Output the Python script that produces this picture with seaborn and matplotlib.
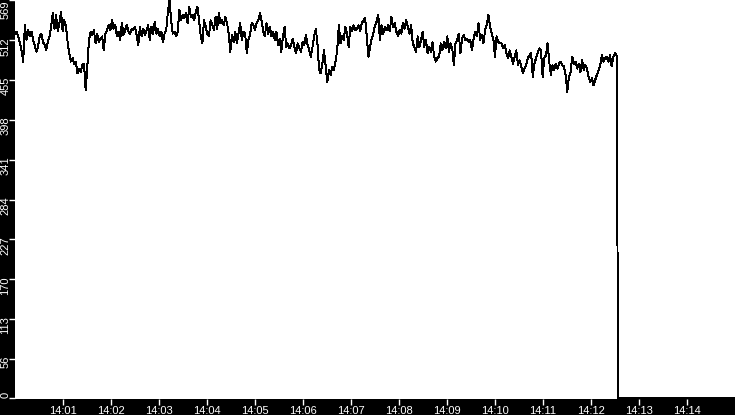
import pandas as pd
import matplotlib
matplotlib.use("Agg")
import matplotlib.pyplot as plt
import matplotlib.dates as mdates
import matplotlib.transforms as mtransforms
import seaborn as sns

# readings sampled roughly every 2 seconds, 14:00:00 -> 14:12:32
seg1 = [521, 524, 517, 507, 497, 481, 533, 512, 526, 517, 524, 512, 505, 495, 502, 517,
        521, 509, 505, 497, 509, 517, 531, 550, 528, 548, 524, 536, 552, 524, 540, 531,
        509, 493, 481, 486, 478, 481, 464, 471, 466, 476, 478, 440, 474, 512, 524, 519,
        526, 507, 521, 509, 514, 517, 497, 521, 526, 533, 526, 540, 528, 533, 517, 524,
        512, 536, 519, 526, 533, 524, 521, 528, 526, 531, 519, 505]
seg2 = [531, 517, 528, 519, 526, 533, 512, 531, 521, 538, 521, 528, 517, 524, 509, 521,
        526, 552, 569, 540, 521, 524, 517, 524, 555, 540, 548, 543, 550, 536, 559, 545,
        548, 540, 552, 559, 540, 517, 507, 540, 531, 521, 517, 540, 533, 526, 545, 528,
        550, 536, 540, 533, 545, 536, 521, 495, 519, 509, 524, 507, 521, 536, 512, 524,
        521, 493, 512, 519, 536, 533, 526, 536, 540, 550]
seg3 = [540, 524, 517, 536, 521, 531, 517, 524, 512, 524, 505, 514, 495, 517, 531, 502,
        507, 500, 505, 514, 502, 493, 507, 500, 495, 509, 505, 519, 505, 497, 488, 502,
        517, 528, 507, 469, 464, 478, 497, 474, 452, 469, 462, 474, 469, 481, 497, 533,
        507, 517, 512, 531, 521, 502, 531, 524, 533, 526, 528, 533, 524, 536, 540, 543,
        517, 488, 502, 514, 521, 533, 538, 548, 512]
seg4 = [533, 521, 531, 526, 533, 524, 545, 531, 536, 524, 517, 526, 521, 536, 528, 540,
        531, 521, 533, 507, 502, 495, 517, 502, 512, 524, 502, 512, 493, 502, 495, 509,
        488, 481, 486, 488, 507, 497, 509, 500, 517, 495, 507, 500, 476, 507, 512, 521,
        493, 514, 519, 512, 514, 509, 512, 497, 514, 524, 517, 536, 512, 519, 507, 526,
        533, 548, 531, 521, 514, 488, 517, 509, 507]
seg5 = [507, 500, 505, 493, 486, 497, 488, 478, 488, 497, 476, 483, 474, 464, 471, 476,
        486, 490, 493, 459, 478, 486, 493, 500, 497, 459, 486, 490, 507, 481, 462, 476,
        469, 478, 471, 478, 481, 476, 474, 462, 438, 459, 466, 488, 478, 481, 471, 478,
        466, 483, 469, 476, 471, 459, 452, 457, 447, 455, 462, 469, 476, 490, 481, 486,
        488, 481, 490, 474, 488, 493, 490]
rate = seg1 + seg2 + seg3 + seg4 + seg5

# the feed drops out at 14:12:33 and stays at zero
tail_times = ["14:12:33", "14:12:34", "14:15:00"]
tail_rate = [227, 0, 0]

y_ticks = [0, 56, 113, 170, 227, 284, 341, 398, 455, 512, 569]

day = "2024-01-01 "
times = pd.date_range(day + "14:00:00", day + "14:12:32", periods=len(rate))
times = times.append(pd.to_datetime([day + t for t in tail_times]))
df = pd.DataFrame({"time": times, "rate": rate + tail_rate})

plt.rcParams["font.family"] = ["Liberation Sans", "DejaVu Sans"]

fig = plt.figure(figsize=(7.35, 4.15), dpi=100, facecolor="black")
ax = fig.add_axes([15 / 735, 16 / 415, 720 / 735, 399 / 415])
ax.set_facecolor("white")

sns.lineplot(data=df, x="time", y="rate", ax=ax, color="black",
             linewidth=0.7, antialiased=False)

ax.set_xlim(pd.Timestamp(day + "14:00:00"), pd.Timestamp(day + "14:15:00"))
ax.set_ylim(-1, 569)
ax.set_yticks(y_ticks)
ax.set_yticklabels([str(v) for v in y_ticks], rotation=90)
ax.xaxis.set_major_locator(mdates.MinuteLocator(byminute=range(1, 15)))
ax.xaxis.set_major_formatter(mdates.DateFormatter("%H:%M"))

ax.tick_params(colors="white", labelsize=8, length=4, width=1)
ax.tick_params(axis="y", pad=-0.6)
ax.tick_params(axis="x", pad=1)
ax.set_xlabel("")
ax.set_ylabel("")
for s in ax.spines.values():
    s.set_visible(False)

# y labels hang just below their tick, kept inside the figure
lift = mtransforms.ScaledTranslation(0, 3 / 100, fig.dpi_scale_trans)
for lab, v in zip(ax.get_yticklabels(), y_ticks):
    if v == 0:
        lab.set_va("bottom")
    elif v == 569:
        lab.set_va("top")
    else:
        lab.set_va("top")
        lab.set_transform(lab.get_transform() + lift)

fig.savefig("out.png", dpi=100, facecolor="black")
